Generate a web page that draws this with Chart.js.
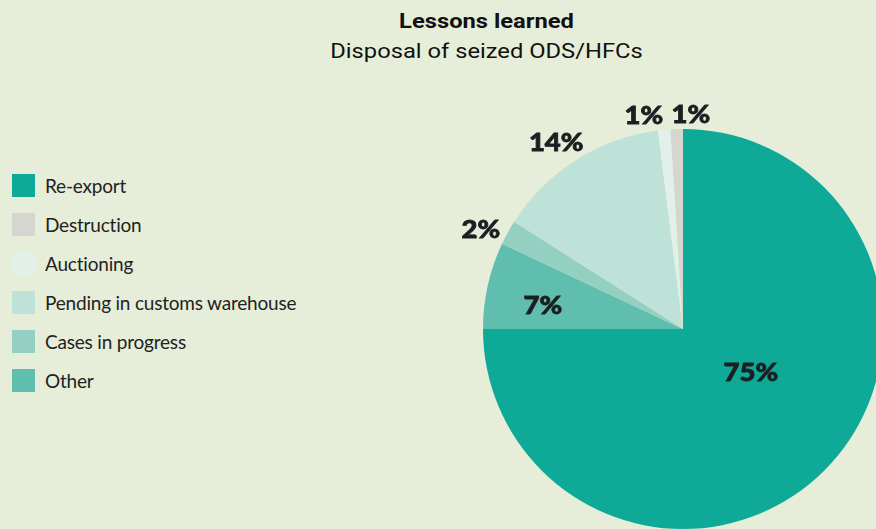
<!DOCTYPE html>
<html>
<head>
<meta charset="utf-8">
<script src="https://cdn.jsdelivr.net/npm/chart.js@4.4.1/dist/chart.umd.min.js"></script>
<style>
  html, body { margin: 0; padding: 0; }
  body {
    width: 876px; height: 529px; overflow: hidden; position: relative;
    background: #e6eed9;
  }
  #title {
    position: absolute; left: 0; top: 9px; width: 973px; text-align: center;
    font-family: Roboto, sans-serif; color: #111;
    transform: scaleX(1.13); transform-origin: 486.5px 0;
  }
  #title .main { font-weight: 700; font-size: 21px; line-height: 24px; }
  #title .sub { font-weight: 400; font-size: 21px; line-height: 24px; margin-top: 5.5px; }
  #legend {
    position: absolute; left: 12px; top: 174px; margin: 0; padding: 0; list-style: none;
    font-family: Lato, sans-serif; font-size: 19px; color: #222; letter-spacing: -0.2px;
  }
  #legend li { height: 39px; display: flex; align-items: flex-start; }
  #legend .box { width: 23px; height: 23px; margin-right: 10px; }
  #legend .txt { line-height: 23px; }
  #pie { position: absolute; left: 433px; top: 79px; }
</style>
</head>
<body>
<div id="title">
  <div class="main">Lessons learned</div>
  <div class="sub">Disposal of seized ODS/HFCs</div>
</div>
<ul id="legend"></ul>
<canvas id="pie" width="500" height="500"></canvas>
<script>
// 處置方式 (legend order)
var categories = ['Re-export', 'Destruction', 'Auctioning', 'Pending in customs warehouse', 'Cases in progress', 'Other'];
var shares = [75, 1, 1, 14, 2, 7];
var colors = ['#0eaa97', '#d5d6d0', '#e3efe9', '#bfe2d8', '#93d0c2', '#5fbead'];

// legend
var legend = document.getElementById('legend');
categories.forEach(function (name, i) {
    var li = document.createElement('li');
    li.innerHTML = '<span class="box" style="background:' + colors[i] + '"></span><span class="txt">' + name + '</span>';
    legend.appendChild(li);
});

// pie draws the small slices counter-clockwise from the top, so feed them reversed
// and start at 9 o'clock; Re-export comes last and fills the remaining 270°
var order = [5, 4, 3, 2, 1, 0];
var pieLabels = order.map(function (i) { return categories[i]; });
var pieData = order.map(function (i) { return shares[i]; });
var pieColors = order.map(function (i) { return colors[i]; });

// where each % label sits: fraction of radius and a small turn (deg)
var labelSpot = [
    { f: 0.71, turn: -3.3 },
    { f: 1.125, turn: -2.7 },
    { f: 1.125, turn: -1.9 },
    { f: 1.085, turn: -5 },
    { f: 1.07, turn: 3.9 },
    { f: 0.405, turn: -12 }
];

var pctLabels = {
    id: 'pctLabels',
    afterDatasetsDraw: function (chart) {
        var ctx = chart.ctx;
        var meta = chart.getDatasetMeta(0);
        meta.data.forEach(function (arc, i) {
            var p = arc.getProps(['x', 'y', 'startAngle', 'endAngle', 'outerRadius'], true);
            var a = (p.startAngle + p.endAngle) / 2 + labelSpot[i].turn * Math.PI / 180;
            var r = p.outerRadius * labelSpot[i].f;
            ctx.save();
            ctx.translate(p.x + Math.cos(a) * r, p.y + Math.sin(a) * r);
            ctx.scale(1.1, 1);   // wider, heavier looking digits
            ctx.font = '900 25px Lato, sans-serif';
            ctx.fillStyle = '#1b1f22';
            ctx.strokeStyle = '#1b1f22';
            ctx.lineWidth = 0.8;
            ctx.textAlign = 'center';
            ctx.textBaseline = 'middle';
            ctx.fillText(pieData[i] + '%', 0, 0);
            ctx.strokeText(pieData[i] + '%', 0, 0);
            ctx.restore();
        });
    }
};

var myPie = new Chart(document.getElementById('pie'), {
    type: 'pie',
    data: {
        labels: pieLabels,
        datasets: [{
            data: pieData,
            backgroundColor: pieColors,
            borderWidth: 0
        }]
    },
    options: {
        responsive: false,
        animation: false,
        rotation: 270,
        layout: { padding: 50 },
        plugins: {
            legend: { display: false },
            tooltip: { enabled: false }
        }
    },
    plugins: [pctLabels]
});
</script>
</body>
</html>
